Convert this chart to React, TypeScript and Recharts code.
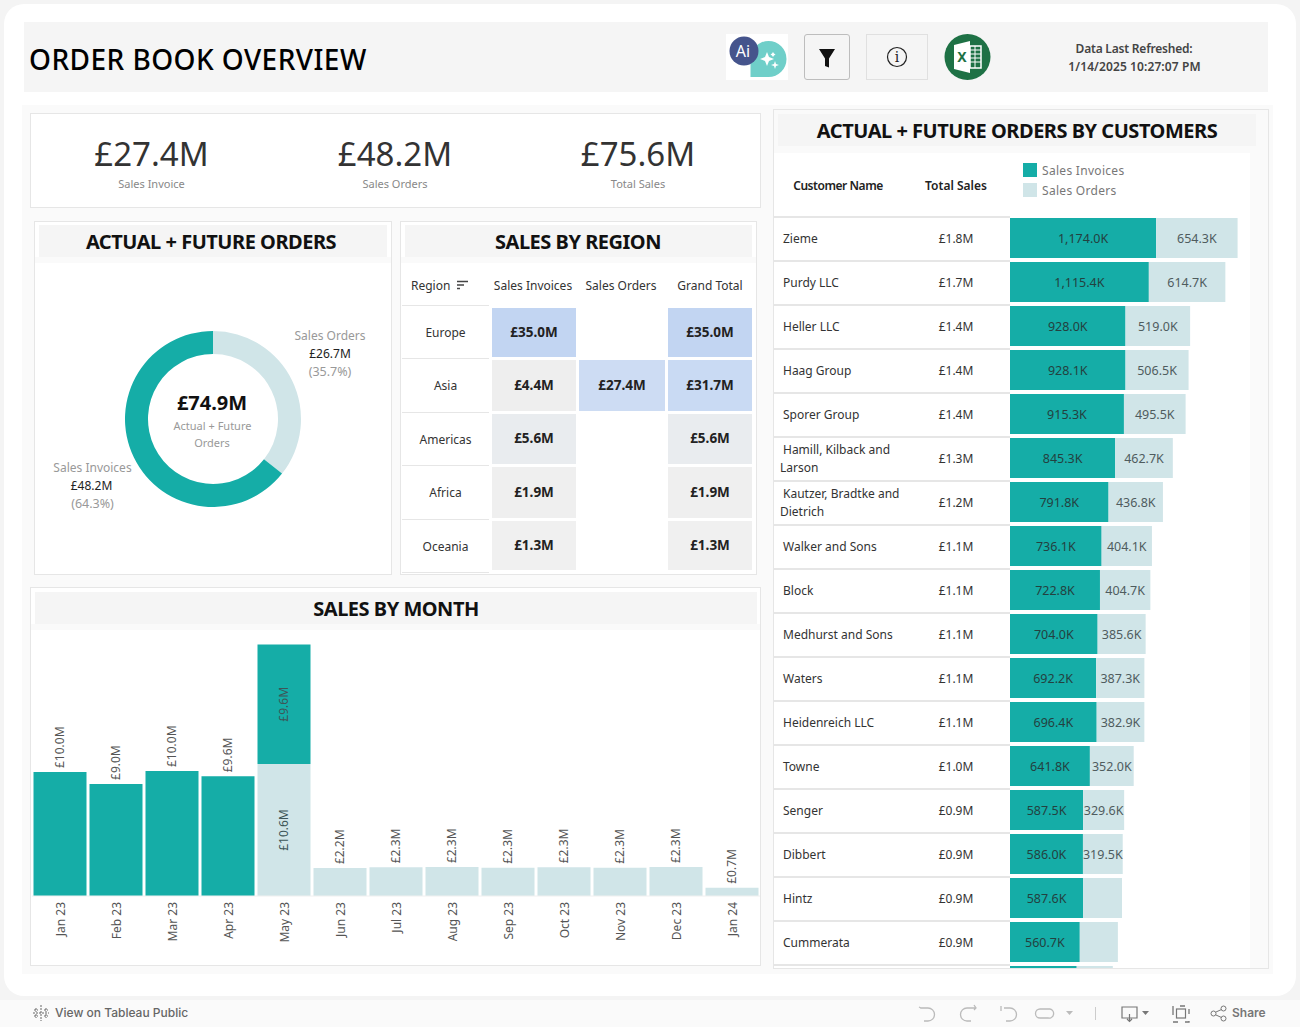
import React from "react";
import { BarChart, Bar, XAxis, YAxis, LabelList, PieChart, Pie, Cell } from "recharts";

const TEAL = "#15ada7";
const LIGHT = "#d0e5e8";
const FONT = "'Noto Sans', sans-serif";

// KPI
const kpiValues = ["£27.4M", "£48.2M", "£75.6M"];
const kpiLabels = ["Sales Invoice", "Sales Orders", "Total Sales"];

// Donut
const donutNames = ["Sales Orders", "Sales Invoices"];
const donutValues = [26.7, 48.2];

// Region table
const regions = ["Europe", "Asia", "Americas", "Africa", "Oceania"];
const regionInvoices = ["£35.0M", "£4.4M", "£5.6M", "£1.9M", "£1.3M"];
const regionOrders = ["", "£27.4M", "", "", ""];
const regionTotals = ["£35.0M", "£31.7M", "£5.6M", "£1.9M", "£1.3M"];
const regionInvoiceColors = ["#c2d5f2", "#eeeeee", "#e9ecef", "#efefef", "#f0f0f0"];
const regionOrderColors = ["", "#cddcf3", "", "", ""];
const regionTotalColors = ["#c2d5f2", "#c9daf3", "#e9ecef", "#efefef", "#f0f0f0"];

// Monthly
const months = ["Jan 23", "Feb 23", "Mar 23", "Apr 23", "May 23", "Jun 23", "Jul 23", "Aug 23", "Sep 23", "Oct 23", "Nov 23", "Dec 23", "Jan 24"];
const monthInvoices = [9.96, 9.0, 10.04, 9.62, 9.6, 0, 0, 0, 0, 0, 0, 0, 0];
const monthOrders = [0, 0, 0, 0, 10.6, 2.24, 2.31, 2.32, 2.27, 2.31, 2.27, 2.32, 0.66];

// Customers
const customers = ["Zieme", "Purdy LLC", "Heller LLC", "Haag Group", "Sporer Group", "Hamill, Kilback and Larson", "Kautzer, Bradtke and Dietrich", "Walker and Sons", "Block", "Medhurst and Sons", "Waters", "Heidenreich LLC", "Towne", "Senger", "Dibbert", "Hintz", "Cummerata", ""];
const customerTotals = ["£1.8M", "£1.7M", "£1.4M", "£1.4M", "£1.4M", "£1.3M", "£1.2M", "£1.1M", "£1.1M", "£1.1M", "£1.1M", "£1.1M", "£1.0M", "£0.9M", "£0.9M", "£0.9M", "£0.9M", ""];
const customerInvoices = [1174.0, 1115.4, 928.0, 928.1, 915.3, 845.3, 791.8, 736.1, 722.8, 704.0, 692.2, 696.4, 641.8, 587.5, 586.0, 587.6, 560.7, 536];
const customerOrders = [654.3, 614.7, 519.0, 506.5, 495.5, 462.7, 436.8, 404.1, 404.7, 385.6, 387.3, 382.9, 352.0, 329.6, 319.5, 312, 306, 290];

const monthData = months.map((m, i) => ({ m, inv: monthInvoices[i], ord: monthOrders[i] }));
const customerData = customers.map((c, i) => ({ c, inv: customerInvoices[i], ord: customerOrders[i] }));
const donutData = donutNames.map((name, i) => ({ name, value: donutValues[i] }));
// segments of a month holding both series carry their label inside the bar
const insideValues = monthData.filter((d) => d.inv > 0 && d.ord > 0).flatMap((d) => [d.inv, d.ord]);
const clippedCustomerValues = [customerInvoices[17], customerOrders[17]];

function T({ x, y, children, size = 12, color = "#333", weight = 400, align = "center", spacing = 0, font = FONT }: any) {
  const tx = align === "center" ? "-50%" : align === "right" ? "-100%" : "0";
  return (
    <div style={{ position: "absolute", left: x, top: y, transform: `translate(${tx},-50%)`, fontFamily: font, fontSize: size, color, fontWeight: weight, letterSpacing: spacing, whiteSpace: "nowrap", lineHeight: 1 }}>
      {children}
    </div>
  );
}

function Box({ x, y, w, h, bg, border, radius, children }: any) {
  return (
    <div style={{ position: "absolute", left: x, top: y, width: w, height: h, background: bg, border: border ? `1px solid ${border}` : undefined, borderRadius: radius, boxSizing: "border-box" }}>
      {children}
    </div>
  );
}

function Panel({ x, y, w, h, bx, bw, by, title, tx }: any) {
  return (
    <>
      <Box x={x} y={y} w={w} h={h} bg="#fff" border="#e6e6e6" />
      <Box x={x + 1} y={by + 32} w={w - 2} h={6} bg="#fafafa" />
      <Box x={bx} y={by} w={bw} h={32} bg="#f5f5f5" />
      <T x={tx} y={by + 17} size={20} weight={700} color="#111" spacing={-0.48}>{title}</T>
    </>
  );
}

const monthTick = ({ x, y, payload }: any) => (
  <text transform={`translate(${x + 1},${y}) rotate(-90)`} dy={4} textAnchor="end" fontFamily={FONT} fontSize={12} fill="#555">
    {payload.value}
  </text>
);

const monthLabel = ({ x, y, width, height, value }: any) => {
  if (!value) return null;
  const isInside = insideValues.includes(value);
  const cx = x + width / 2;
  const cy = isInside ? y + height / 2 : y - 4;
  return (
    <text transform={`translate(${cx},${cy}) rotate(-90)`} dy={4} textAnchor={isInside ? "middle" : "start"} fontFamily={FONT} fontSize={12} fill={isInside ? "#3d5557" : "#555"}>
      {`£${Number(value).toFixed(1)}M`}
    </text>
  );
};

const custLabel = (fill: string) => ({ x, y, width, height, value }: any) => {
  if (width < 39.5 || clippedCustomerValues.includes(value)) return null;
  return (
    <text x={x + width / 2} y={y + height / 2} dy={4.5} textAnchor="middle" fontFamily={FONT} fontSize={12.5} fill={fill}>
      {`${Number(value).toLocaleString("en-US", { minimumFractionDigits: 1, maximumFractionDigits: 1 })}K`}
    </text>
  );
};

function Header() {
  return (
    <>
      <Box x={24} y={22} w={1244} h={70} bg="#f5f5f5" />
      <T x={29} y={59} size={28} weight={500} color="#000" align="left" spacing={0.45}>ORDER BOOK OVERVIEW</T>
      <svg style={{ position: "absolute", left: 726, top: 34 }} width={62} height={46}>
        <rect width={62} height={46} fill="#fff" />
        <path d="M24.5 25 a18 18 0 1 1 18 18 h-18 z" fill="#6fcfc9" />
        <circle cx={18} cy={17} r={14.5} fill="#45548c" />
        <text x={17} y={22.5} textAnchor="middle" fontFamily={FONT} fontSize={16} fill="#fff">Ai</text>
        <path d="M41 18 l2 5 5 2 -5 2 -2 5 -2 -5 -5 -2 5 -2z M49 27 l1 3 3 1 -3 1 -1 3 -1 -3 -3 -1 3 -1z M47 18 l1 1.5 1.5 1 -1.5 1 -1 1.5 -1 -1.5 -1.5 -1 1.5 -1z" fill="#fff" />
      </svg>
      <Box x={804} y={34} w={46} h={46} border="#bdbdbd" radius={3} />
      <svg style={{ position: "absolute", left: 804, top: 34 }} width={46} height={46}>
        <path d="M15 15 h16 l-6 9.5 v9 l-4 -1.5 v-7.5z" fill="#111" />
      </svg>
      <Box x={866} y={34} w={62} h={46} border="#e0e0e0" />
      <svg style={{ position: "absolute", left: 866, top: 34 }} width={62} height={46}>
        <circle cx={31} cy={23} r={9.5} fill="none" stroke="#222" strokeWidth={1.2} />
        <text x={31} y={28} textAnchor="middle" fontFamily="'DejaVu Serif', serif" fontSize={14} fill="#222">i</text>
      </svg>
      <svg style={{ position: "absolute", left: 944, top: 34 }} width={47} height={46}>
        <circle cx={23.5} cy={23} r={23} fill="#1e7145" />
        <path d="M10 11 l16 -4 v32 l-16 -4z" fill="#fff" />
        <rect x={26} y={12} width={11} height={22} fill="none" stroke="#fff" strokeWidth={1.5} />
        <path d="M26 16 h11 M26 20 h11 M26 24 h11 M26 28 h11 M31 12 v22" stroke="#fff" strokeWidth={1} />
        <text x={18} y={28} textAnchor="middle" fontFamily={FONT} fontWeight={700} fontSize={14} fill="#1e7145">X</text>
      </svg>
      <T x={1134} y={49} weight={600} size={12} color="#444" spacing={-0.2}>Data Last Refreshed:</T>
      <T x={1134.5} y={67} weight={600} size={12} color="#444" spacing={0.1}>1/14/2025 10:27:07 PM</T>
    </>
  );
}

function Kpis() {
  const xs = [151.5, 395, 638];
  return (
    <>
      <Box x={30} y={113} w={731} h={95} bg="#fff" border="#e6e6e6" />
      {kpiValues.map((v, i) => (
        <React.Fragment key={v}>
          <T x={xs[i]} y={153} size={33} color="#333" weight={400} spacing={0}>{v}</T>
          <T x={xs[i]} y={183} size={11} color="#888">{kpiLabels[i]}</T>
        </React.Fragment>
      ))}
    </>
  );
}

function Donut() {
  return (
    <>
      <Panel x={34} y={221} w={358} h={354} bx={39} bw={348} by={225} tx={211} title="ACTUAL + FUTURE ORDERS" />
      <div style={{ position: "absolute", left: 113, top: 319 }}>
        <PieChart width={200} height={200} margin={{ top: 0, right: 0, bottom: 0, left: 0 }}>
          <Pie data={donutData} dataKey="value" nameKey="name" cx={100} cy={100} innerRadius={65} outerRadius={88} startAngle={90} endAngle={-270} stroke="none" isAnimationActive={false}>
            <Cell fill={LIGHT} />
            <Cell fill={TEAL} />
          </Pie>
        </PieChart>
      </div>
      <T x={212} y={403} size={20} weight={700} color="#111">£74.9M</T>
      <T x={212.5} y={424.5} size={11} color="#999">Actual + Future</T>
      <T x={212} y={441.5} size={11} color="#999">Orders</T>
      <T x={330} y={336} color="#999">Sales Orders</T>
      <T x={330} y={354} color="#222">£26.7M</T>
      <T x={330} y={372} color="#999" size={12.5}>(35.7%)</T>
      <T x={92.5} y={468} color="#999">Sales Invoices</T>
      <T x={91.5} y={486} color="#222">£48.2M</T>
      <T x={92.5} y={504} color="#999" size={12.5}>(64.3%)</T>
    </>
  );
}

function Region() {
  const tops = [308, 360, 414, 467, 521];
  const bottoms = [357, 411, 464, 518, 570];
  const lines = [305, 358, 412, 465, 519, 572];
  const cols = [
    { x: 492, w: 84, vals: regionInvoices, colors: regionInvoiceColors },
    { x: 579, w: 86, vals: regionOrders, colors: regionOrderColors },
    { x: 668, w: 84, vals: regionTotals, colors: regionTotalColors },
  ];
  return (
    <>
      <Panel x={400} y={221} w={357} h={354} bx={405} bw={347} by={225} tx={578} title="SALES BY REGION" />
      <T x={411} y={286} align="left" color="#333">Region</T>
      <svg style={{ position: "absolute", left: 456, top: 280 }} width={13} height={11}>
        <path d="M1 1.5 h11 M1 5 h7 M1 8.5 h3" stroke="#444" strokeWidth={1.3} />
      </svg>
      <T x={533} y={286} color="#333">Sales Invoices</T>
      <T x={621} y={286} color="#333">Sales Orders</T>
      <T x={710} y={286} color="#333">Grand Total</T>
      {lines.map((y) => <Box key={y} x={402} y={y} w={87} h={1} bg="#e6e6e6" />)}
      {regions.map((r, i) => (
        <T key={r} x={445.5} y={(lines[i] + lines[i + 1]) / 2 + 1} color="#333">{r}</T>
      ))}
      {cols.map((c) =>
        c.vals.map((v, i) =>
          v ? (
            <React.Fragment key={c.x + "-" + i}>
              <Box x={c.x} y={tops[i]} w={c.w} h={bottoms[i] - tops[i]} bg={c.colors[i]} />
              <T x={c.x + c.w / 2} y={(tops[i] + bottoms[i]) / 2} size={13.5} weight={700} color="#222">{v}</T>
            </React.Fragment>
          ) : null
        )
      )}
    </>
  );
}

function Months() {
  return (
    <>
      <Panel x={30} y={587} w={731} h={379} bx={35} bw={722} by={592} tx={396} title="SALES BY MONTH" />
      <div style={{ position: "absolute", left: 31.5, top: 630 }}>
        <BarChart width={728} height={335} data={monthData} margin={{ top: 0, right: 0, bottom: 0, left: 0 }} barCategoryGap={1.5}>
          <XAxis dataKey="m" height={69} interval={0} tick={monthTick} tickLine={false} axisLine={{ stroke: "#f0f0f0" }} tickMargin={0} />
          <YAxis hide domain={[0, 21.37]} />
          <Bar dataKey="ord" stackId="a" fill={LIGHT} isAnimationActive={false}>
            <LabelList dataKey="ord" content={monthLabel} />
          </Bar>
          <Bar dataKey="inv" stackId="a" fill={TEAL} isAnimationActive={false}>
            <LabelList dataKey="inv" content={monthLabel} />
          </Bar>
        </BarChart>
      </div>
    </>
  );
}

function Customers() {
  return (
    <>
      <Box x={773} y={109} w={496} h={860} bg="#fafafa" border="#e6e6e6" />
      <Box x={774} y={153} w={476} h={815} bg="#fff" />
      <Box x={778} y={114} w={478} h={32} bg="#f5f5f5" />
      <T x={1017} y={131} size={20} weight={700} color="#111" spacing={-0.48}>ACTUAL + FUTURE ORDERS BY CUSTOMERS</T>
      <T x={838} y={186} weight={600} color="#222" spacing={-0.45}>Customer Name</T>
      <T x={956} y={186} weight={600} color="#222">Total Sales</T>
      <Box x={1023} y={163} w={14} h={14} bg={TEAL} />
      <Box x={1023} y={183} w={14} h={14} bg={LIGHT} />
      <T x={1042} y={171} align="left" color="#777" spacing={0.3}>Sales Invoices</T>
      <T x={1042} y={191} align="left" color="#777" spacing={0.3}>Sales Orders</T>
      <div style={{ position: "absolute", left: 774, top: 216, width: 476, height: 752, overflow: "hidden" }}>
        {customers.map((c, i) => (
          <React.Fragment key={i}>
            <Box x={0} y={i * 44} w={236} h={1.5} bg="#e6e6e6" />
            {c.length > 22 ? (
              <div style={{ position: "absolute", left: 6, top: i * 44 + 5, width: 130, fontFamily: FONT, fontSize: 12, lineHeight: "18px", color: "#333", textIndent: 3 }}>{c}</div>
            ) : c ? (
              <T x={9} y={i * 44 + 23} align="left" color="#333">{c}</T>
            ) : null}
            {customerTotals[i] ? <T x={182} y={i * 44 + 23} color="#333">{customerTotals[i]}</T> : null}
          </React.Fragment>
        ))}
        <div style={{ position: "absolute", left: 236, top: 0 }}>
          <BarChart layout="vertical" width={240} height={792} data={customerData} margin={{ top: 0, right: 0, bottom: 0, left: 0 }} barCategoryGap={2}>
            <XAxis type="number" hide domain={[0, 1928]} />
            <YAxis type="category" dataKey="c" hide />
            <Bar dataKey="inv" stackId="a" fill={TEAL} isAnimationActive={false}>
              <LabelList dataKey="inv" content={custLabel("#234140")} />
            </Bar>
            <Bar dataKey="ord" stackId="a" fill={LIGHT} isAnimationActive={false}>
              <LabelList dataKey="ord" content={custLabel("#4f5c5e")} />
            </Bar>
          </BarChart>
        </div>
      </div>
    </>
  );
}

function Footer() {
  const s = { fill: "none", stroke: "#bbb", strokeWidth: 1.3 };
  return (
    <>
      <Box x={0} y={1000} w={1300} h={27} bg="#fafafa" />
      <svg style={{ position: "absolute", left: 32, top: 1004 }} width={18} height={18}>
        <path d="M9 1 v16 M1 9 h16 M4 4 v4 M2 6 h4 M14 4 v4 M12 6 h4 M4 10 v4 M2 12 h4 M14 10 v4 M12 12 h4" stroke="#666" strokeWidth={1} strokeDasharray="2 1" />
      </svg>
      <T x={55} y={1013} align="left" color="#666" size={12} font="Inter, sans-serif" weight={500}>View on Tableau Public</T>
      <svg style={{ position: "absolute", left: 900, top: 1000 }} width={300} height={27}>
        <path d="M21 8 l-2 -1 M20 8 h8 a6 6 0 0 1 0 13 h-4" {...s} />
        <path d="M75 8 h-8 a6 6 0 0 0 0 13 h4 M74 5 l2 3 -2 2" {...s} />
        <path d="M101 6 v5 M104 8 h6 a6 6 0 0 1 0 13 h-4" {...s} />
        <path d="M150 9 h-10 a4.5 4.5 0 0 0 0 9 h8 a4.5 4.5 0 0 0 2 -9" {...s} />
        <path d="M166 11 h7 l-3.5 4z" fill="#bbb" />
        <path d="M195.5 7 v13" stroke="#ccc" strokeWidth={1} />
        <path d="M222 7 h15 v11 h-15z M229.5 14 v7 M227 19 l2.5 2.5 2.5 -2.5" fill="none" stroke="#777" strokeWidth={1.2} />
        <path d="M242 11 h7 l-3.5 4z" fill="#777" />
        <path d="M273 11 v-5 h16 v16 h-16z" fill="none" stroke="#777" strokeWidth={1.3} strokeDasharray="5 7" />
        <rect x={276.5} y={9} width={9} height={9} fill="none" stroke="#777" strokeWidth={1.2} />
      </svg>
      <svg style={{ position: "absolute", left: 1210, top: 1005 }} width={18} height={17}>
        <circle cx={3.5} cy={8.5} r={2.5} fill="none" stroke="#777" />
        <circle cx={13.5} cy={3.5} r={2.5} fill="none" stroke="#777" />
        <circle cx={13.5} cy={13.5} r={2.5} fill="none" stroke="#777" />
        <path d="M6 7 l5.5 -2.5 M6 10 l5.5 2.5" stroke="#777" />
      </svg>
      <T x={1232} y={1013} align="left" color="#777" size={12} font="Inter, sans-serif" weight={600}>Share</T>
    </>
  );
}

export default function App() {
  return (
    <div style={{ position: "absolute", left: 0, top: 0, width: 1300, height: 1027, overflow: "hidden", background: "#f4f4f4" }}>
      <Box x={4} y={4} w={1292} h={992} bg="#fff" radius={20} />
      <Header />
      <Box x={22} y={105} w={1251} h={869} bg="#fafafa" />
      <Kpis />
      <Donut />
      <Region />
      <Months />
      <Customers />
      <Footer />
    </div>
  );
}
